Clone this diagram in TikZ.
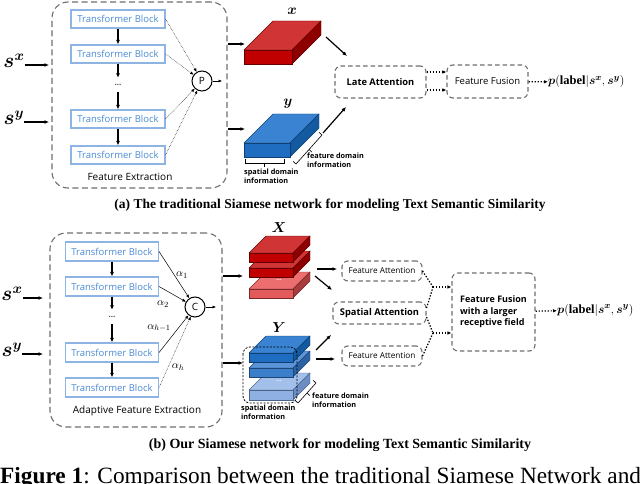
\documentclass[tikz,border=0pt]{standalone}
\usepackage{fontspec}
\setmainfont{Liberation Serif}
\setsansfont{Open Sans}
\usepackage{amsmath}
\usepackage{xcolor}
\usetikzlibrary{positioning,arrows.meta,calc}

\definecolor{tbline}{HTML}{8DB4E2}
\definecolor{tbtext}{HTML}{4A8BD3}
\definecolor{grpgray}{HTML}{6E6E6E}
\definecolor{redfront}{HTML}{C00000}
\definecolor{redtop}{HTML}{D03434}
\definecolor{redside}{HTML}{8E0000}
\definecolor{redlfront}{HTML}{E25A5A}
\definecolor{redltop}{HTML}{EC6E6E}
\definecolor{redlside}{HTML}{A83C3C}
\definecolor{bluefront}{HTML}{1F6DC0}
\definecolor{bluetop}{HTML}{3A83D2}
\definecolor{blueside}{HTML}{145AA0}
\definecolor{bluemfront}{HTML}{3B7FCB}
\definecolor{bluemtop}{HTML}{5A94D6}
\definecolor{bluemside}{HTML}{2C62A5}
\definecolor{bluelfront}{HTML}{8EB0E2}
\definecolor{blueltop}{HTML}{A3C0EA}
\definecolor{bluelside}{HTML}{6D8EC4}

% slab: x, y (front top-left), width, height, depth, front, top, side
\newcommand{\slab}[8]{%
  \filldraw[draw=#8!70!black, line width=0.4pt, fill=#7] (#1,#2) -- ++(#5,-#5) -- ++(#3,0) -- ++(-#5,#5) -- cycle;
  \filldraw[draw=#8!70!black, line width=0.4pt, fill=#8] (#1+#3,#2) -- ++(#5,-#5) -- ++(0,#4) -- ++(-#5,#5) -- cycle;
  \filldraw[draw=#8!70!black, line width=0.4pt, fill=#6] (#1,#2) rectangle ++(#3,#4);
}

\tikzset{
  tblock/.style={rectangle, draw=tbline, line width=1.1pt, fill=white, minimum width=94, minimum height=18, inner sep=0pt, text=tbtext, font=\sffamily\fontsize{9.5}{10}\selectfont},
  grp/.style={rectangle, draw=grpgray, line width=1.1pt, dash pattern=on 6pt off 3.5pt, rounded corners=16pt},
  attn/.style={rectangle, draw=grpgray, line width=1.1pt, dash pattern=on 4.5pt off 3pt, rounded corners=6pt, inner sep=0pt, font=\sffamily\bfseries\fontsize{9.3}{10}\selectfont},
  op/.style={circle, draw, line width=1pt, minimum size=20, inner sep=0pt, font=\sffamily\fontsize{10}{10}\selectfont},
  gap/.style={inner sep=0pt, minimum height=14, text=black!70, font=\sffamily\bfseries\fontsize{8}{8}\selectfont},
  flow/.style={line width=1.2pt, -{Latex[length=4.5pt,width=4pt]}},
  feed/.style={line width=0.5pt, densely dotted, -{Latex[length=3.5pt,width=3pt]}},
  weight/.style={line width=0.5pt, -{Latex[length=3.5pt,width=3pt]}},
  dotflow/.style={line width=1.2pt, dash pattern=on 1.4pt off 1.6pt, -{Latex[length=4pt,width=3.5pt]}},
  note/.style={inner sep=0pt, align=left, font=\sffamily\bfseries\fontsize{7.3}{8.5}\selectfont},
  seq/.style={inner sep=0pt, font=\fontsize{20}{20}\selectfont},
  tensor/.style={inner sep=0pt, font=\fontsize{14}{14}\selectfont},
  grplabel/.style={font=\sffamily\fontsize{10}{11}\selectfont},
  subcap/.style={font=\bfseries\fontsize{13.5}{15}\selectfont},
}

\begin{document}
\begin{tikzpicture}[x=1pt, y=-1pt]
  \clip (0,0) rectangle (640,484);
  % Panel (a): nodes
  \node (feaA) [grp, minimum width=175, minimum height=186] at (139.5,95) {};
  \node (tbA1) [tblock] at (118,19) {Transformer Block};
  \node (tbA2) [tblock] at (118,54) {Transformer Block};
  \node (dotsA) [gap] at (118,85) {...};
  \node (tbA3) [tblock] at (118,119) {Transformer Block};
  \node (tbA4) [tblock] at (118,155) {Transformer Block};
  \node (feaAlab) [grplabel] at (130,177) {Feature Extraction};
  \node (poolA) [op] at (202,81) {P};
  \node (sxA) [seq] at (14,61) {$\boldsymbol{s}^{\boldsymbol{x}}$};
  \node (syA) [seq] at (14,118) {$\boldsymbol{s}^{\boldsymbol{y}}$};
  \coordinate (inxA) at (49,65);
  \coordinate (inyA) at (49,122);
  \coordinate (outxA) at (245,44);
  \coordinate (outyA) at (245,129);
  \coordinate (poolAout) at (222,81);
  % Panel (a): arrows
  \draw[flow] (tbA1) -- (tbA2);
  \draw[flow] (tbA2) -- (dotsA);
  \draw[flow] (dotsA) -- (tbA3);
  \draw[flow] (tbA3) -- (tbA4);
  \foreach \b in {tbA1,tbA2,tbA3,tbA4} \draw[feed] (\b.east) -- (poolA);
  \draw[weight] (poolA) -- (poolAout);
  \draw[flow] (sxA.east |- inxA) -- (inxA);
  \draw[flow] (syA.east |- inyA) -- (inyA);
  \draw[flow] (feaA.east |- outxA) -- (outxA);
  \draw[flow] (feaA.east |- outyA) -- (outyA);
  % Panel (a): tensors
  \slab{244}{50}{48}{14}{29}{redfront}{redtop}{redside}
  \slab{244}{143}{46}{14}{29}{bluefront}{bluetop}{blueside}
  \node (xA) [tensor] at (292,11) {$\boldsymbol{x}$};
  \node (yA) [tensor] at (288,104) {$\boldsymbol{y}$};
  \draw[line width=0.6pt] (245,159) -- (245,163) -- (284,163) -- (284,159) (264.5,163) -- (264.5,167);
  \node (spA) [note, anchor=north west] at (244,169) {spatial domain\\information};
  \draw[line width=0.6pt] (293,161.3) -- (296,164) -- (322,135) -- (319,132.3) (309,149.5) -- (312,152.2);
  \node (fdA) [note, anchor=north west] at (307,153) {feature domain\\information};
  % Panel (a): attention and fusion
  \node (lateA) [attn, minimum width=91, minimum height=32] at (380.5,82) {Late Attention};
  \node (fuseA) [attn, font=\sffamily\fontsize{9.5}{10}\selectfont, minimum width=81, minimum height=33] at (487.5,81.5) {Feature Fusion};
  \node (probA) [anchor=west, inner sep=0pt, font=\fontsize{12.5}{12}\selectfont] at (548,82) {$\boldsymbol{p}(\textbf{label}|\boldsymbol{s}^{\boldsymbol{x}},\boldsymbol{s}^{\boldsymbol{y}})$};
  \coordinate (redA) at (326,37);
  \coordinate (redAend) at (347,56);
  \coordinate (blueA) at (323,133);
  \coordinate (blueAend) at (346,107);
  \draw[flow] (redA) -- (redAend);
  \draw[flow] (blueA) -- (blueAend);
  \draw[dotflow] ($(lateA.east)+(0,-10)$) -- ($(fuseA.west |- lateA.east)+(0,-10)$);
  \draw[dotflow] ($(lateA.east)+(0,8)$) -- ($(fuseA.west |- lateA.east)+(0,8)$);
  \draw[dotflow] (fuseA) -- (probA);
  \node (capA) [subcap] at (330,205) {(a) The traditional Siamese network for modeling Text Semantic Similarity};

  % Panel (b): nodes
  \node (feaB) [grp, minimum width=172, minimum height=194] at (136,330) {};
  \node (tbB1) [tblock, minimum width=93, minimum height=19] at (112,251.5) {Transformer Block};
  \node (tbB2) [tblock, minimum width=93, minimum height=19] at (112,286.5) {Transformer Block};
  \node (dotsB) [gap] at (112,317) {...};
  \node (tbB3) [tblock, minimum width=93, minimum height=19] at (112,352.5) {Transformer Block};
  \node (tbB4) [tblock, minimum width=93, minimum height=19] at (112,387.5) {Transformer Block};
  \node (feaBlab) [grplabel] at (137,411) {Adaptive Feature Extraction};
  \node (catB) [op] at (195,307) {C};
  \node (al1) [font=\fontsize{11}{11}\selectfont] at (182,275) {$\alpha_1$};
  \node (al2) [font=\fontsize{11}{11}\selectfont] at (163,304) {$\alpha_2$};
  \node (al3) [font=\fontsize{11}{11}\selectfont] at (159,328) {$\alpha_{h-1}$};
  \node (al4) [font=\fontsize{11}{11}\selectfont] at (178,367) {$\alpha_h$};
  \node (sxB) [seq] at (12,294) {$\boldsymbol{s}^{\boldsymbol{x}}$};
  \node (syB) [seq] at (12,350) {$\boldsymbol{s}^{\boldsymbol{y}}$};
  \coordinate (inxB) at (43,298);
  \coordinate (inyB) at (43,354);
  \coordinate (outxB) at (243,276);
  \coordinate (outyB) at (243,363);
  \coordinate (catBout) at (216,307);
  % Panel (b): arrows
  \draw[flow] (tbB1) -- (tbB2);
  \draw[flow] (tbB2) -- (dotsB);
  \draw[flow] (dotsB) -- (tbB3);
  \draw[flow] (tbB3) -- (tbB4);
  \foreach \b in {tbB1,tbB2,tbB3} \draw[weight] (\b.east) -- (catB);
  \draw[feed] (tbB4.east) -- (catB);
  \draw[weight] (catB) -- (catBout);
  \draw[flow] (sxB.east |- inxB) -- (inxB);
  \draw[flow] (syB.east |- inyB) -- (inyB);
  \draw[flow] (feaB.east |- outxB) -- (outxB);
  \draw[flow] (feaB.east |- outyB) -- (outyB);
  % Panel (b): tensor stacks
  \slab{249}{289}{44}{9}{17}{redlfront}{redltop}{redlside}
  \slab{249}{268}{44}{9}{17}{redfront}{redtop}{redside}
  \slab{249}{253}{44}{9}{17}{redfront}{redtop}{redside}
  \node (dotsX) [inner sep=0pt, text=white, font=\sffamily\bfseries\fontsize{6}{6}\selectfont] at (279,280) {...};
  \node (XB) [tensor] at (279,228) {$\boldsymbol{X}$};
  \slab{249}{390}{44}{10}{17}{bluelfront}{blueltop}{bluelside}
  \slab{249}{368}{44}{9}{17}{bluemfront}{bluemtop}{bluemside}
  \slab{249}{353}{44}{9}{17}{bluefront}{bluetop}{blueside}
  \node (dotsY) [inner sep=0pt, text=white, font=\sffamily\bfseries\fontsize{6}{6}\selectfont] at (279,381) {...};
  \node (YB) [tensor] at (279,328) {$\boldsymbol{Y}$};
  \draw[line width=0.8pt, dash pattern=on 2pt off 1.5pt, rounded corners=7pt] (243,347) rectangle (297,403);
  \node (spB) [note, anchor=north west] at (241,405) {spatial domain\\information};
  \draw[line width=0.6pt] (295,400.3) -- (298,403) -- (316,383) -- (313,380.3) (307,393) -- (310,395.7);
  \node (fdB) [note, anchor=north west] at (312,393) {feature domain\\information};
  % Panel (b): attention and fusion
  \node (faT) [attn, font=\sffamily\fontsize{8.2}{9}\selectfont, minimum width=80, minimum height=20] at (382,271) {Feature Attention};
  \node (saB) [attn, minimum width=93, minimum height=22] at (379.5,313) {Spatial Attention};
  \node (faB) [attn, font=\sffamily\fontsize{8.2}{9}\selectfont, minimum width=80, minimum height=20] at (382,356) {Feature Attention};
  \node (fuseB) [attn, align=left, minimum width=83, minimum height=78, font=\sffamily\bfseries\fontsize{9}{11.5}\selectfont] at (493.5,312) {Feature Fusion\\with a larger\\receptive field};
  \node (probB) [anchor=west, inner sep=0pt, font=\fontsize{12.5}{12}\selectfont] at (557,310) {$\boldsymbol{p}(\textbf{label}|\boldsymbol{s}^{\boldsymbol{x}},\boldsymbol{s}^{\boldsymbol{y}})$};
  \coordinate (redB1) at (317,269);
  \coordinate (redB1end) at (337,269);
  \coordinate (redB2) at (315,276);
  \coordinate (redB2end) at (332,290);
  \coordinate (blueB1) at (316,350);
  \coordinate (blueB1end) at (331,335);
  \coordinate (blueB2) at (316,359);
  \coordinate (blueB2end) at (335,359);
  \draw[flow] (redB1) -- (redB1end);
  \draw[flow] (redB2) -- (redB2end);
  \draw[flow] (blueB1) -- (blueB1end);
  \draw[flow] (blueB2) -- (blueB2end);
  \coordinate (mergeT) at (433,287);
  \coordinate (mergeB) at (433,333);
  \draw[dotflow, -] (faT.east) -- (mergeT);
  \draw[dotflow, -] ($(saB.east)+(0,-5)$) -- (mergeT);
  \draw[dotflow, -] ($(saB.east)+(0,4)$) -- (mergeB);
  \draw[dotflow, -] (faB.east) -- (mergeB);
  \draw[dotflow] (mergeT) -- (fuseB.west |- mergeT);
  \draw[dotflow] (mergeB) -- (fuseB.west |- mergeB);
  \draw[dotflow] (fuseB) -- (probB);
  \node (capB) [subcap, font=\bfseries\fontsize{14}{15}\selectfont] at (340,445) {(b) Our Siamese network for modeling Text Semantic Similarity};
  \node (figcap) [anchor=base west, inner sep=0pt, font=\fontsize{23.3}{26}\selectfont] at (0,483) {\textbf{Figure 1}: Comparison between the traditional Siamese Network and};
\end{tikzpicture}
\end{document}
